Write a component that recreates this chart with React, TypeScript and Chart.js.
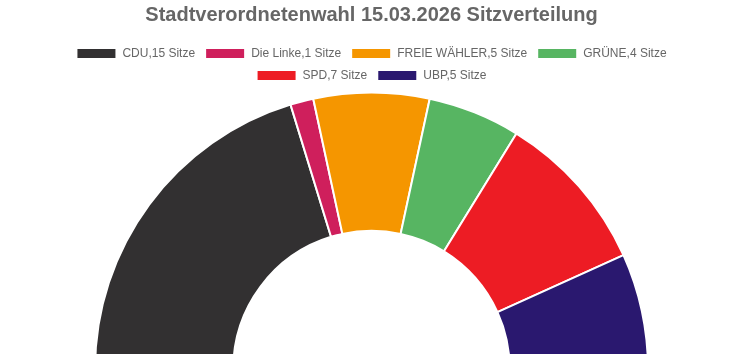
import React, { useEffect, useRef } from "react";
import { Chart, registerables } from "chart.js";

Chart.register(...registerables);

const titleText = "Stadtverordnetenwahl 15.03.2026 Sitzverteilung";
const parties = ["CDU", "Die Linke", "FREIE WÄHLER", "GRÜNE", "SPD", "UBP"];
const seats = [15, 1, 5, 4, 7, 5];
const colors = ["#323031", "#cf1f5c", "#f59600", "#57b562", "#ed1c24", "#2a186f"];

export default function App() {
  const ref = useRef<HTMLCanvasElement | null>(null);
  useEffect(() => {
    if (!ref.current) return;
    const font = "'Liberation Sans', Arial, sans-serif";
    const chart = new Chart(ref.current, {
      type: "doughnut",
      data: {
        labels: parties.map((p, i) => `${p},${seats[i]} Sitze`),
        datasets: [
          {
            data: seats,
            backgroundColor: colors,
            borderColor: "#ffffff",
            borderWidth: 2,
          },
        ],
      },
      options: {
        animation: false,
        responsive: true,
        maintainAspectRatio: false,
        rotation: -90,
        circumference: 180,
        cutout: "50%",
        layout: { padding: 0 },
        plugins: {
          title: {
            display: true,
            text: titleText,
            color: "#666666",
            font: { family: font, size: 20, weight: "bold", lineHeight: 1.2 },
            padding: { top: 3, bottom: 10.5 },
          },
          legend: {
            position: "top",
            labels: {
              color: "#666666",
              boxWidth: 40,
              boxHeight: 11,
              padding: 10,
              font: { family: font, size: 12, lineHeight: 1.08 },
            },
          },
          tooltip: { enabled: false },
        },
      },
    });
    return () => chart.destroy();
  }, []);
  return (
    <div style={{ position: "fixed", left: 8, top: 0, width: 727, height: 354, overflow: "hidden" }}>
      <div style={{ position: "absolute", left: 0, top: 0, width: 727, height: 370 }}>
        <canvas ref={ref} />
      </div>
    </div>
  );
}
